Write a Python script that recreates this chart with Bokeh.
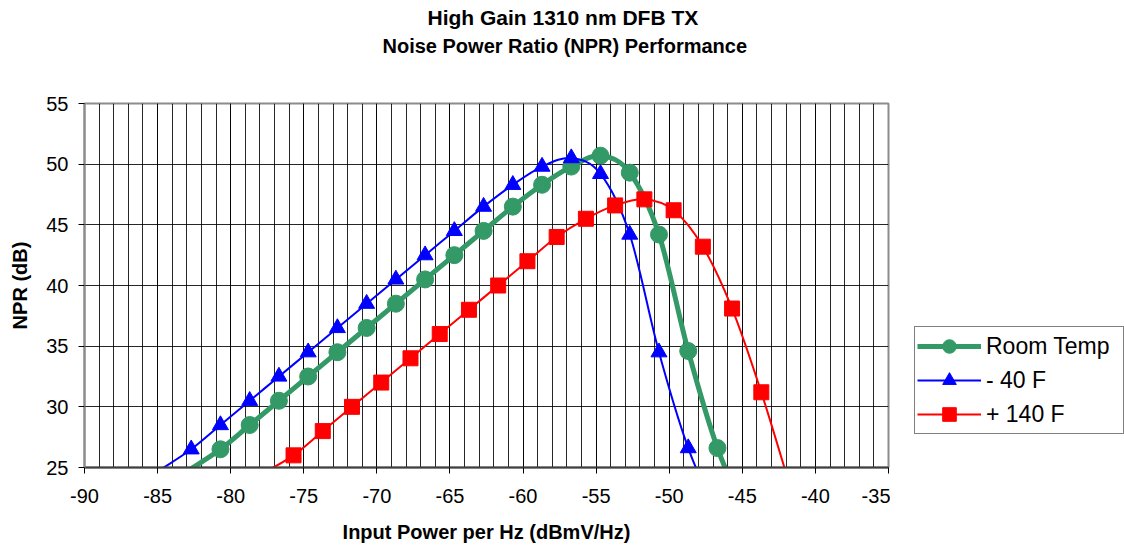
from bokeh.plotting import figure
from bokeh.layouts import row
from bokeh.models import (Range1d, FixedTicker, Legend, LegendItem, Title,
                          ColumnDataSource)
from bokeh.embed import file_html
from bokeh.resources import INLINE

FONT = "Liberation Sans"

title_line1 = "High Gain 1310 nm DFB TX"
title_line2 = "Noise Power Ratio (NPR) Performance"
x_title = "Input Power per Hz (dBmV/Hz)"
y_title = "NPR (dB)"
series_names = ["Room Temp", "- 40 F", "+ 140 F"]

x_ticks = [-90, -85, -80, -75, -70, -65, -60, -55, -50, -45, -40, -35]
x_tick_labels = ["-90", "-85", "-80", "-75", "-70", "-65", "-60", "-55",
                 "-50", "-45", "-40", "-35"]
y_ticks = [25, 30, 35, 40, 45, 50, 55]
y_tick_labels = ["25", "30", "35", "40", "45", "50", "55"]

# Room Temp (first and last points continue below the visible 25 dB floor)
room_x = [-82.7, -80.7, -78.7, -76.7, -74.7, -72.7, -70.7, -68.7, -66.7, -64.7,
          -62.7, -60.7, -58.7, -56.7, -54.7, -52.7, -50.7, -48.7, -46.7, -44.7]
room_y = [24.9, 26.5, 28.5, 30.5, 32.5, 34.5, 36.5, 38.5, 40.5, 42.5,
          44.5, 46.5, 48.3, 49.8, 50.7, 49.3, 44.2, 34.6, 26.6, 21.0]

# -40 F
cold_x = [-84.7, -82.7, -80.7, -78.7, -76.7, -74.7, -72.7, -70.7, -68.7, -66.7,
          -64.7, -62.7, -60.7, -58.7, -56.7, -54.7, -52.7, -50.7, -48.7, -46.7]
cold_y = [24.9, 26.5, 28.5, 30.5, 32.5, 34.5, 36.5, 38.5, 40.5, 42.5,
          44.5, 46.5, 48.3, 49.8, 50.5, 49.2, 44.2, 34.5, 26.6, 21.0]

# +140 F
hot_x = [-77.7, -75.7, -73.7, -71.7, -69.7, -67.7, -65.7, -63.7, -61.7, -59.7,
         -57.7, -55.7, -53.7, -51.7, -49.7, -47.7, -45.7, -43.7, -41.7]
hot_y = [24.6, 26.0, 28.0, 30.0, 32.0, 34.0, 36.0, 38.0, 40.0, 42.0,
         44.0, 45.5, 46.6, 47.1, 46.2, 43.2, 38.1, 31.2, 23.3]

GREEN = "#339966"
BLUE = "#0000FF"
RED = "#FF0000"

X_MIN, X_MAX = -90, -35
Y_MIN, Y_MAX = 25, 55

p = figure(width=890, height=548, output_backend="svg", toolbar_location=None,
           x_range=Range1d(X_MIN, X_MAX), y_range=Range1d(Y_MIN, Y_MAX),
           min_border_left=84, min_border_right=2, min_border_top=103,
           min_border_bottom=81, background_fill_color="white",
           border_fill_color="white")
p.outline_line_color = "#8c8c8c"
p.outline_line_width = 2

p.xaxis.ticker = FixedTicker(ticks=x_ticks,
                             minor_ticks=list(range(X_MIN, X_MAX + 1)))
p.yaxis.ticker = FixedTicker(ticks=y_ticks)
p.xaxis.major_label_overrides = dict(zip(x_ticks, x_tick_labels))
p.yaxis.major_label_overrides = dict(zip(y_ticks, y_tick_labels))
p.xgrid.ticker = p.xaxis.ticker
p.ygrid.ticker = p.yaxis.ticker

p.xgrid.grid_line_color = "black"
p.xgrid.grid_line_alpha = 0.85
p.xgrid.minor_grid_line_color = "black"
p.xgrid.minor_grid_line_alpha = 0.85
p.ygrid.grid_line_color = "black"
p.ygrid.grid_line_alpha = 0.85

for ax in (p.xaxis, p.yaxis):
    ax.minor_tick_line_color = None
    ax.major_tick_out = 6
    ax.major_tick_in = 0
    ax.major_tick_line_color = "black"
    ax.major_label_text_font = FONT
    ax.major_label_text_font_size = "20px"
    ax.major_label_text_color = "black"
    ax.axis_label_text_font = FONT
    ax.axis_label_text_font_size = "20px"
    ax.axis_label_text_font_style = "bold"
    ax.axis_label_text_color = "black"

p.xaxis.axis_line_color = "#404040"
p.xaxis.axis_line_width = 2
p.yaxis.axis_line_color = "#8c8c8c"
p.yaxis.axis_line_width = 2
p.xaxis.axis_label = x_title
p.yaxis.axis_label = y_title
p.xaxis.major_label_standoff = 15
p.xaxis.axis_label_standoff = 15
p.yaxis.major_label_standoff = 10
p.yaxis.axis_label_standoff = 12


def smooth_segments(xs, ys):
    px = [xs[0]] + list(xs) + [xs[-1]]
    py = [ys[0]] + list(ys) + [ys[-1]]
    d = dict(x0=[], y0=[], x1=[], y1=[], cx0=[], cy0=[], cx1=[], cy1=[])
    for i in range(1, len(px) - 2):
        d["x0"].append(px[i]); d["y0"].append(py[i])
        d["x1"].append(px[i + 1]); d["y1"].append(py[i + 1])
        d["cx0"].append(px[i] + (px[i + 1] - px[i - 1]) / 6)
        d["cy0"].append(py[i] + (py[i + 1] - py[i - 1]) / 6)
        d["cx1"].append(px[i + 1] - (px[i + 2] - px[i]) / 6)
        d["cy1"].append(py[i + 1] - (py[i + 2] - py[i]) / 6)
    return ColumnDataSource(d)


def visible(xs, ys):
    pts = [(x, y) for x, y in zip(xs, ys) if Y_MIN <= y <= Y_MAX]
    return ColumnDataSource(dict(x=[a for a, _ in pts], y=[b for _, b in pts]))


series = [
    (room_x, room_y, GREEN, 5, "circle", 17),
    (cold_x, cold_y, BLUE, 2, "triangle", 16),
    (hot_x, hot_y, RED, 2, "square", 15),
]

# separate legend panel (a frame-only figure placed to the right)
pl = figure(width=234, height=548, output_backend="svg", toolbar_location=None,
            x_range=Range1d(0, 1), y_range=Range1d(0, 1),
            x_axis_type=None, y_axis_type=None, min_border=0,
            background_fill_color="white", border_fill_color="white")
pl.outline_line_color = None
pl.grid.visible = False

items = []
for (xs, ys, col, lw, marker, size), name in zip(series, series_names):
    seg = smooth_segments(xs, ys)
    pts = visible(xs, ys)
    p.bezier(x0="x0", y0="y0", x1="x1", y1="y1", cx0="cx0", cy0="cy0",
             cx1="cx1", cy1="cy1", source=seg, line_color=col,
             line_width=lw, line_cap="round")
    p.scatter(x="x", y="y", source=pts, marker=marker, size=size,
              fill_color=col, line_color=col)
    # legend proxies (their data lies outside this panel's ranges)
    lb = pl.bezier(x0="x0", y0="y0", x1="x1", y1="y1", cx0="cx0", cy0="cy0",
                   cx1="cx1", cy1="cy1", source=seg, line_color=col,
                   line_width=lw)
    ls = pl.scatter(x="x", y="y", source=pts, marker=marker, size=size,
                    fill_color=col, line_color=col)
    items.append(LegendItem(label=name, renderers=[lb, ls]))

legend = Legend(items=items, location=(24, 33), orientation="vertical",
                border_line_color="black", border_line_width=1,
                background_fill_color="white", background_fill_alpha=1,
                label_text_font=FONT, label_text_font_size="23px",
                label_text_color="black",
                glyph_width=64, glyph_height=34, label_height=34,
                spacing=0, padding=2, margin=0, label_standoff=5,
                label_width=135)
pl.add_layout(legend, "center")

spacer = Title(text=" ", align="left", standoff=42, text_font=FONT,
               text_font_size="1px")
t2 = Title(text=title_line2, align="left", offset=298, standoff=4,
           text_font=FONT, text_font_size="20px", text_font_style="bold",
           text_color="black")
t1 = Title(text=title_line1, align="left", offset=343, standoff=3,
           text_font=FONT, text_font_size="21px", text_font_style="bold",
           text_color="black")
p.add_layout(spacer, "above")
p.add_layout(t2, "above")
p.add_layout(t1, "above")

layout = row(p, pl, spacing=0)
open("out.html", "w").write(file_html(layout, INLINE))
